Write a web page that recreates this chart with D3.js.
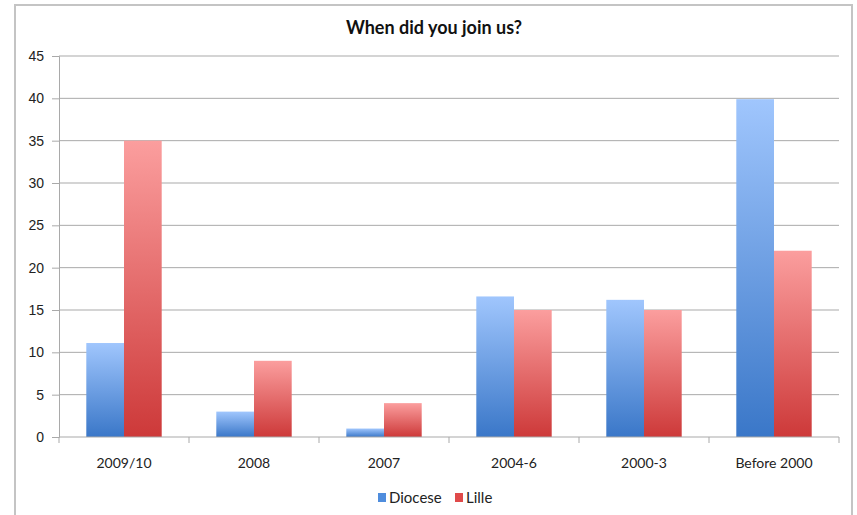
<!DOCTYPE html>
<html>
<head>
<meta charset="utf-8">
<script src="https://cdn.jsdelivr.net/npm/d3@7"></script>
<style>
  html, body { margin: 0; padding: 0; background: #fff; }
  svg { display: block; font-family: Lato, "Open Sans", sans-serif; }
</style>
</head>
<body>
<svg id="chart" width="857" height="515"></svg>
<script>
// Survey answers: year of joining
const categories = ["2009/10", "2008", "2007", "2004-6", "2000-3", "Before 2000"];
const seriesNames = ["Diocese", "Lille"];
const diocese = [11.1, 3, 1, 16.6, 16.2, 39.9];
const lille = [35, 9, 4, 15, 15, 22];
const yTicks = [0, 5, 10, 15, 20, 25, 30, 35, 40, 45];

const svg = d3.select("#chart");
const margin = { left: 59, top: 56 };
const plotW = 839 - margin.left;
const plotH = 437 - margin.top;

// Gradients for the glossy bars
const defs = svg.append("defs");
const grads = [
  { id: "gBlue", top: "#a0c6fd", bottom: "#3a77c8" },
  { id: "gRed", top: "#fb9e9e", bottom: "#cd3939" }
];
grads.forEach(g => {
  const lg = defs.append("linearGradient").attr("id", g.id)
    .attr("x1", 0).attr("y1", 0).attr("x2", 0).attr("y2", 1);
  lg.append("stop").attr("offset", "0%").attr("stop-color", g.top);
  lg.append("stop").attr("offset", "100%").attr("stop-color", g.bottom);
});
const fills = ["url(#gBlue)", "url(#gRed)"];
const legendColors = ["#4f8ddd", "#e04a4a"];

// Outer frame
svg.append("rect")
  .attr("x", 15).attr("y", 5).attr("width", 837).attr("height", 520)
  .attr("fill", "#fff").attr("stroke", "#c4c4c4").attr("stroke-width", 2);

const g = svg.append("g").attr("transform", `translate(${margin.left},${margin.top})`);

const x0 = d3.scaleBand().domain(categories).range([0, plotW]).paddingInner(0.42).paddingOuter(0.21);
const x1 = d3.scaleBand().domain(seriesNames).range([0, x0.bandwidth()]).padding(0);
const xCat = d3.scaleBand().domain(categories).range([0, plotW]);
const y = d3.scaleLinear().domain([0, 45]).range([plotH, 0]);

// Gridlines
g.append("g").selectAll("line").data(yTicks.filter(t => t > 0)).join("line")
  .attr("x1", 0).attr("x2", plotW)
  .attr("y1", d => y(d)).attr("y2", d => y(d))
  .attr("stroke", "#a9a9a9").attr("stroke-width", 1);

// Y axis
const yAxis = g.append("g")
  .call(d3.axisLeft(y).tickValues(yTicks).tickSize(7).tickPadding(8).tickFormat(d3.format("d")));
yAxis.select(".domain").attr("stroke", "#a9a9a9");
yAxis.selectAll(".tick line").attr("stroke", "#a9a9a9");
yAxis.selectAll("text").attr("font-size", 14).attr("fill", "#222");

// Bars
const data = categories.map((c, i) => ({ cat: c, vals: [diocese[i], lille[i]] }));
const groups = g.append("g").selectAll("g").data(data).join("g")
  .attr("transform", d => `translate(${x0(d.cat)},0)`);
groups.selectAll("rect").data(d => d.vals.map((v, k) => ({ name: seriesNames[k], v, k })))
  .join("rect")
  .attr("x", d => x1(d.name))
  .attr("width", x1.bandwidth())
  .attr("y", d => y(d.v))
  .attr("height", d => plotH - y(d.v))
  .attr("fill", d => fills[d.k]);

// X axis with ticks at category boundaries
const xAxisG = g.append("g").attr("transform", `translate(0,${plotH})`);
xAxisG.append("line").attr("x1", 0).attr("x2", plotW).attr("stroke", "#a9a9a9");
const boundaries = categories.map(c => xCat(c)).concat([plotW]);
xAxisG.selectAll("line.tk").data(boundaries).join("line").attr("class", "tk")
  .attr("x1", d => d).attr("x2", d => d).attr("y1", 0).attr("y2", 6)
  .attr("stroke", "#a9a9a9");
xAxisG.selectAll("text").data(categories).join("text")
  .attr("x", d => xCat(d) + xCat.bandwidth() / 2)
  .attr("y", 31)
  .attr("text-anchor", "middle")
  .attr("font-size", 14).attr("fill", "#222")
  .text(d => d);

// Title
svg.append("text")
  .attr("x", 434).attr("y", 34)
  .attr("text-anchor", "middle")
  .attr("font-size", 18).attr("font-weight", "bold").attr("fill", "#111")
  .text("When did you join us?");

// Legend
const legend = svg.append("g").attr("transform", "translate(378,503)");
const items = [{ name: "Diocese", x: 0 }, { name: "Lille", x: 77 }];
items.forEach((it, k) => {
  legend.append("rect").attr("x", it.x).attr("y", -10).attr("width", 8).attr("height", 9)
    .attr("fill", legendColors[k]);
  legend.append("text").attr("x", it.x + 11).attr("y", 0)
    .attr("font-size", 15).attr("fill", "#222").text(it.name);
});
</script>
</body>
</html>
